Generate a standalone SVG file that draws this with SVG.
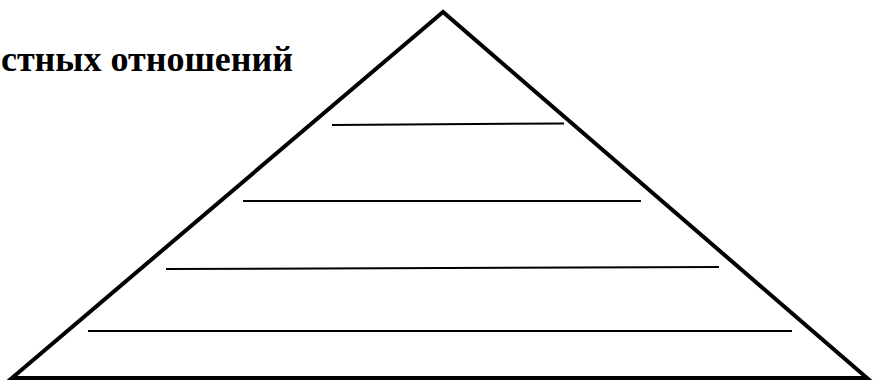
<svg xmlns="http://www.w3.org/2000/svg" width="875" height="382" viewBox="0 0 875 382">
<style>
.tri{fill:none;stroke:#000;stroke-width:4;stroke-linejoin:miter}
.ln{stroke:#000;stroke-width:2}
.t{font-family:"Liberation Serif",serif;font-weight:bold;font-size:36px;fill:#000}
</style>
<rect width="875" height="382" fill="#fff"/>
<g id="title"><text class="t" x="293" y="71" text-anchor="end">стных отношений</text></g>
<g id="pyramid"><polygon class="tri" points="443,12 12,378 867,378"/></g>
<g id="lines">
<line class="ln" x1="332" y1="125" x2="564" y2="123.5"/>
<line class="ln" x1="243" y1="201" x2="641" y2="201"/>
<line class="ln" x1="166" y1="269" x2="719" y2="267"/>
<line class="ln" x1="88" y1="331" x2="792" y2="331"/>
</g>
</svg>
